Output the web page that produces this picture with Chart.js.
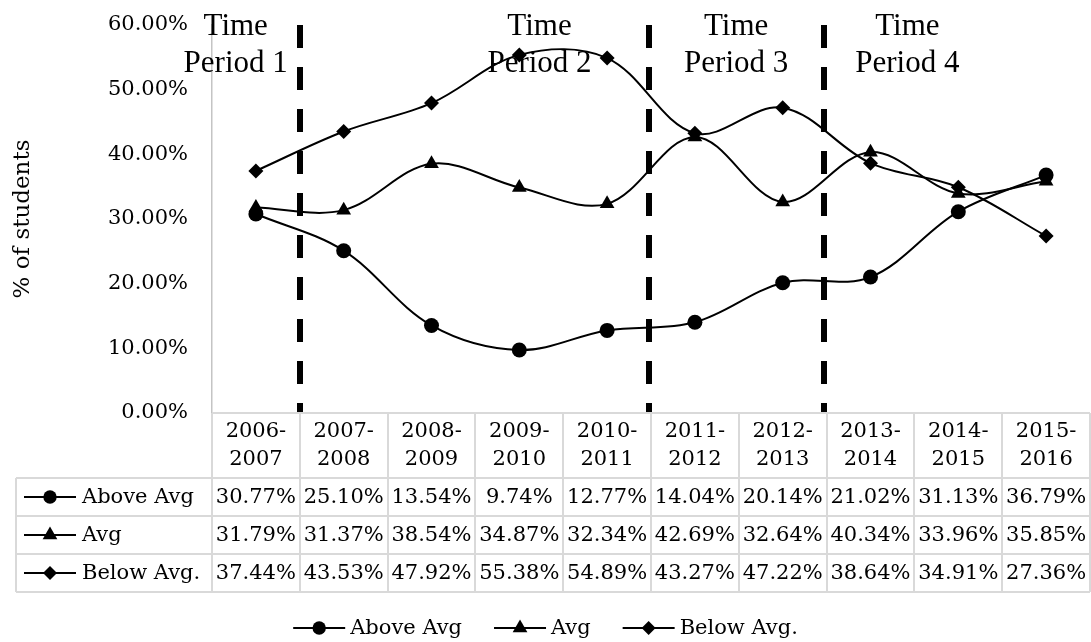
<!DOCTYPE html>
<html>
<head>
<meta charset="utf-8">
<script src="https://cdn.jsdelivr.net/npm/chart.js@4/dist/chart.umd.min.js"></script>
<style>
html,body{margin:0;padding:0;background:#fff;overflow:hidden}
#wrap{width:1091px;height:642px;position:relative}
canvas{display:block}
</style>
</head>
<body>
<div id="wrap"><canvas id="c" width="1091" height="642"></canvas></div>
<script>
// ---- data ----
const categories = ['2006-2007','2007-2008','2008-2009','2009-2010','2010-2011','2011-2012','2012-2013','2013-2014','2014-2015','2015-2016'];
const aboveAvg = [30.77, 25.10, 13.54, 9.74, 12.77, 14.04, 20.14, 21.02, 31.13, 36.79];
const avg      = [31.79, 31.37, 38.54, 34.87, 32.34, 42.69, 32.64, 40.34, 33.96, 35.85];
const belowAvg = [37.44, 43.53, 47.92, 55.38, 54.89, 43.27, 47.22, 38.64, 34.91, 27.36];
const seriesNames = ['Above Avg', 'Avg', 'Below Avg.'];
const yTickValues = [0, 10, 20, 30, 40, 50, 60];
const yAxisTitle = '% of students';
const periodTitles = ['Time', 'Time', 'Time', 'Time'];
const periodNames = ['Period 1', 'Period 2', 'Period 3', 'Period 4'];
const periodBreaks = [0.5, 4.48, 6.47];

// ---- presentation ----
const SERIF = "'DejaVu Serif', serif";
const TIMES = "'Liberation Serif', 'Times New Roman', serif";
const FS = 21;
const pointStyles = ['circle', 'triangle', 'rectRot'];
const pointRadii = [7.5, 8.5, 7.5];
const keyRadii = [6.7, 8.5, 7];
const periodAnchorX = [-0.23, 3.23, 5.47, 7.42];   // annotation anchors (category index units)
const periodAnchorY = [58.45, 52.73];              // baselines of the two text lines (value units)

function fmt(v) { return v.toFixed(2) + '%'; }

function drawMarker(ctx, style, x, y, r) {
  ctx.beginPath();
  if (style === 'circle') {
    ctx.arc(x, y, r, 0, Math.PI * 2);
  } else if (style === 'triangle') {
    ctx.moveTo(x, y - r);
    ctx.lineTo(x + r * Math.sin(Math.PI / 3), y + r * 0.5);
    ctx.lineTo(x - r * Math.sin(Math.PI / 3), y + r * 0.5);
    ctx.closePath();
  } else {
    ctx.moveTo(x, y - r);
    ctx.lineTo(x + r, y);
    ctx.lineTo(x, y + r);
    ctx.lineTo(x - r, y);
    ctx.closePath();
  }
  ctx.fillStyle = '#000';
  ctx.fill();
}

function drawKey(ctx, i, x0, y, len) {
  ctx.save();
  ctx.strokeStyle = '#000';
  ctx.lineWidth = 2;
  ctx.beginPath();
  ctx.moveTo(x0, y);
  ctx.lineTo(x0 + len, y);
  ctx.stroke();
  drawMarker(ctx, pointStyles[i], x0 + len / 2, y, keyRadii[i]);
  ctx.restore();
}

const extrasPlugin = {
  id: 'extras',
  beforeDatasetsDraw(chart) {
    const {ctx, chartArea: {top, bottom}, scales: {x}} = chart;
    ctx.save();
    ctx.strokeStyle = '#000';
    ctx.lineWidth = 6;
    ctx.lineCap = 'butt';
    ctx.setLineDash([23, 19]);
    periodBreaks.forEach(b => {
      const px = Math.round(x.getPixelForValue(b));
      ctx.beginPath();
      ctx.moveTo(px, top);
      ctx.lineTo(px, bottom);
      ctx.stroke();
    });
    ctx.restore();
  },
  afterDatasetsDraw(chart) {
    const {ctx, scales: {x, y}} = chart;
    ctx.save();
    ctx.fillStyle = '#000';
    ctx.font = '31px ' + TIMES;
    ctx.textAlign = 'center';
    ctx.textBaseline = 'alphabetic';
    periodNames.forEach((name, i) => {
      const px = x.getPixelForValue(periodAnchorX[i]);
      ctx.fillText(periodTitles[i], px, y.getPixelForValue(periodAnchorY[0]));
      ctx.fillText(name, px, y.getPixelForValue(periodAnchorY[1]));
    });
    ctx.restore();
  },
  afterDraw(chart) {
    const {ctx, chartArea: {left, right, bottom}, scales: {x}} = chart;
    const W = chart.width;
    const n = categories.length;
    const colW = (right - left) / n;
    const headerH = 65, rowH = 38, tableLeft = 16;
    const headerBottom = bottom + headerH;
    const tableBottom = headerBottom + rowH * 3;
    ctx.save();
    // grid
    ctx.strokeStyle = '#d9d9d9';
    ctx.lineWidth = 2;
    ctx.beginPath();
    ctx.moveTo(left, bottom); ctx.lineTo(right, bottom);
    for (let k = 0; k <= 3; k++) {
      const yy = headerBottom + k * rowH;
      ctx.moveTo(tableLeft, yy); ctx.lineTo(right, yy);
    }
    ctx.moveTo(tableLeft, headerBottom); ctx.lineTo(tableLeft, tableBottom);
    for (let i = 0; i <= n; i++) {
      const xx = Math.round(left + i * colW);
      ctx.moveTo(xx, bottom); ctx.lineTo(xx, tableBottom);
    }
    ctx.stroke();

    // header labels
    ctx.fillStyle = '#000';
    ctx.font = FS + 'px ' + SERIF;
    ctx.textAlign = 'center';
    ctx.textBaseline = 'middle';
    categories.forEach((c, i) => {
      const px = x.getPixelForValue(i);
      const parts = c.split('-');
      ctx.fillText(parts[0] + '-', px, bottom + 19);
      ctx.fillText(parts[1], px, bottom + 47);
    });

    // rows
    const rows = [aboveAvg, avg, belowAvg];
    rows.forEach((vals, r) => {
      const cy = headerBottom + r * rowH + rowH / 2;
      drawKey(ctx, r, 24, cy, 52);
      ctx.fillStyle = '#000';
      ctx.textAlign = 'left';
      ctx.fillText(seriesNames[r], 82, cy + 1);
      ctx.textAlign = 'center';
      vals.forEach((v, i) => {
        ctx.fillText(fmt(v), x.getPixelForValue(i), cy + 1);
      });
    });

    // legend
    const ly = 628;
    const keyLen = 52, gap = 5, spacing = 32;
    ctx.textAlign = 'left';
    const widths = seriesNames.map(s => keyLen + gap + ctx.measureText(s).width);
    const total = widths.reduce((a, b) => a + b, 0) + spacing * (widths.length - 1);
    let cx = (W - total) / 2;
    seriesNames.forEach((s, i) => {
      drawKey(ctx, i, cx, ly, keyLen);
      ctx.fillStyle = '#000';
      ctx.fillText(s, cx + keyLen + gap, ly + 1);
      cx += widths[i] + spacing;
    });
    ctx.restore();
  }
};

const mk = (label, data, i) => ({
  label, data,
  borderColor: '#000',
  backgroundColor: '#000',
  borderWidth: 2,
  tension: 0.35,
  pointStyle: pointStyles[i],
  pointRadius: pointRadii[i],
  pointHoverRadius: pointRadii[i],
  pointBackgroundColor: '#000',
  pointBorderColor: '#000',
  pointBorderWidth: 0,
  fill: false
});

new Chart(document.getElementById('c'), {
  type: 'line',
  data: {
    labels: categories,
    datasets: [mk(seriesNames[0], aboveAvg, 0), mk(seriesNames[1], avg, 1), mk(seriesNames[2], belowAvg, 2)]
  },
  options: {
    responsive: false,
    animation: false,
    devicePixelRatio: 1,
    layout: {autoPadding: false, padding: {top: 25, right: 1, bottom: 229, left: 0}},
    plugins: {legend: {display: false}, tooltip: {enabled: false}},
    scales: {
      x: {
        type: 'category', offset: true, display: false,
        afterFit: s => { s.paddingLeft = 0; s.paddingRight = 0; s.paddingTop = 0; s.paddingBottom = 0; }
      },
      y: {
        min: 0, max: 60,
        afterBuildTicks: s => { s.ticks = yTickValues.map(v => ({value: v})); },
        afterFit: s => { s.width = 212; s.paddingTop = 0; s.paddingBottom = 0; s.paddingLeft = 0; s.paddingRight = 0; },
        grid: {display: false, drawTicks: false},
        border: {display: true, color: '#c4c4c4', width: 1.5},
        ticks: {
          padding: 24,
          color: '#000',
          font: {family: SERIF, size: FS},
          callback: v => fmt(v)
        },
        title: {
          display: true, text: yAxisTitle, color: '#000',
          font: {family: SERIF, size: 23},
          padding: {top: 9, bottom: 0}
        }
      }
    }
  },
  plugins: [extrasPlugin]
});
</script>
</body>
</html>
